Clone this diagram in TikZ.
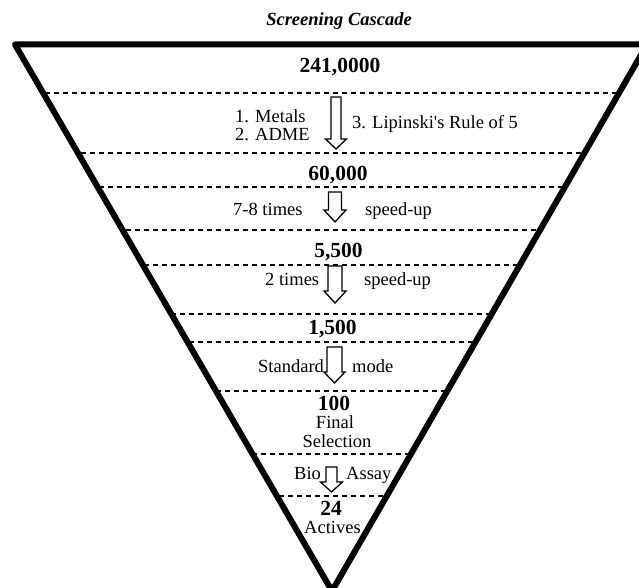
\documentclass[tikz,border=0pt]{standalone}
\usepackage{fontspec}
\setmainfont{Liberation Serif}[Ligatures=TeXOff]
\begin{document}
\begin{tikzpicture}[x=1pt,y=-1pt,
  every node/.style={inner sep=0pt},
  numtxt/.style={font=\fontsize{21.5}{24}\selectfont\bfseries, anchor=base},
  lbl/.style={font=\fontsize{18.5}{20}\selectfont, anchor=base},
  lblw/.style={font=\fontsize{18.5}{20}\selectfont, anchor=base west},
  titletxt/.style={font=\fontsize{18.5}{20}\selectfont\bfseries\itshape, anchor=base},
  divider/.style={line width=1.4pt, dash pattern=on 5pt off 4pt},
  funnel/.style={line width=6pt, line join=round},
  arrowline/.style={line width=1.3pt, fill=white, line join=miter}]
\useasboundingbox (0,0) rectangle (639,588);
% funnel corners
\coordinate (L) at (15,44.5);
\coordinate (R) at (647,44.5);
\coordinate (A) at (332,591);
% dashed dividers clipped to the funnel
\begin{scope}
  \clip (L) -- (R) -- (A) -- cycle;
  \foreach \yy in {93,153,187,230,265,314,342,391,454,496}
    \draw[divider] (0,\yy) -- (700,\yy);
\end{scope}
\draw[funnel] (L) -- (R) -- (A) -- cycle;
% hollow block arrows: cx, top, headbase, tip, shaft half width, head half width
\newcommand{\hollowarrow}[6]{%
  \draw[arrowline] (#1-#5,#2) -- (#1+#5,#2) -- (#1+#5,#3) -- (#1+#6,#3)
    -- (#1,#4) -- (#1-#6,#3) -- (#1-#5,#3) -- cycle;}
\hollowarrow{336}{97}{139}{149}{5}{10.5}
\hollowarrow{335}{192}{210}{222}{6.5}{11}
\hollowarrow{335}{266}{291}{303}{7}{11}
\hollowarrow{334.5}{347}{372}{383}{7.5}{10.5}
\hollowarrow{331.5}{467}{482}{492}{5.5}{11}
% texts
\node[titletxt] (title) at (339,26) {Screening Cascade};
\node[numtxt] (n1) at (340,73) {241,0000};
\node[lblw] (metals) at (235,122.7) {1. Metals};
\node[lblw] (adme) at (235,141) {2. ADME};
\node[lblw] (lipinski) at (352,129) {3. Lipinski's Rule of 5};
\node[numtxt] (n2) at (338,180) {60,000};
\node[lblw] (times78) at (233,215) {7-8 times};
\node[lblw] (speedupA) at (365,215) {speed-up};
\node[numtxt] (n3) at (338.5,257) {5,500};
\node[lblw] (times2) at (265,285) {2 times};
\node[lblw] (speedupB) at (364,285) {speed-up};
\node[numtxt] (n4) at (332.5,334) {1,500};
\node[lblw] (standard) at (258,372) {Standard};
\node[lblw] (mode) at (352,372) {mode};
\node[numtxt] (n5) at (334,410) {100};
\node[lbl] (final) at (335,428) {Final};
\node[lbl] (selection) at (337,447) {Selection};
\node[lblw] (bio) at (294,479) {Bio};
\node[lblw] (assay) at (346,479) {Assay};
\node[numtxt] (n6) at (331,515.5) {24};
\node[lbl] (actives) at (332.5,533) {Actives};
\end{tikzpicture}
\end{document}
